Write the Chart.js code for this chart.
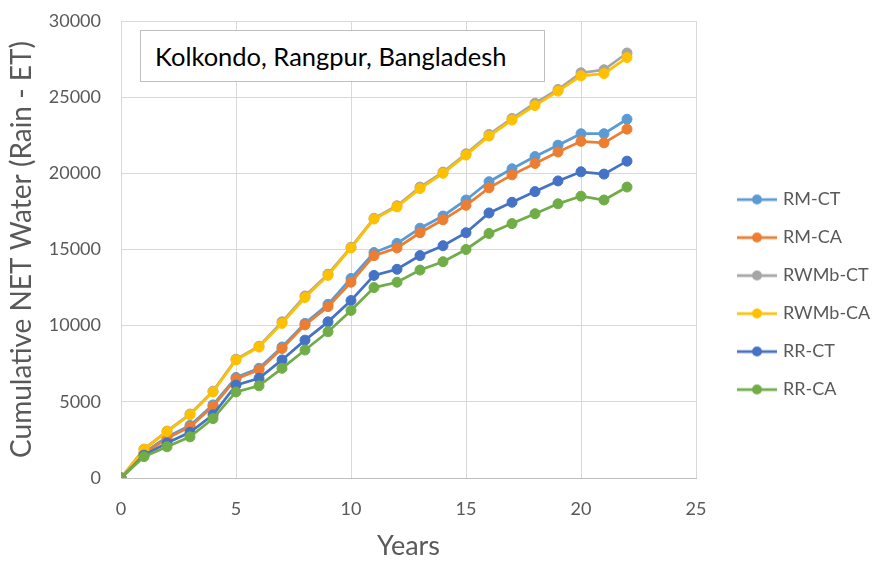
<!DOCTYPE html>
<html>
<head>
<meta charset="utf-8">
<script src="https://cdn.jsdelivr.net/npm/chart.js@4"></script>
<style>
  body{margin:0;background:#fff}
  #wrap{position:relative;width:874px;height:562px}
  #title{position:absolute;left:140px;top:30px;width:405px;height:52px;box-sizing:border-box;
    border:1px solid #bfbfbf;background:#fff;font-family:Lato,sans-serif;font-size:25.5px;
    line-height:50px;padding-left:14px;color:#000;white-space:nowrap}
</style>
</head>
<body>
<div id="wrap">
  <canvas id="myChart" width="874" height="562"></canvas>
  <div id="title">Kolkondo, Rangpur, Bangladesh</div>
</div>
<script>
// years 0..22
var years=[0,1,2,3,4,5,6,7,8,9,10,11,12,13,14,15,16,17,18,19,20,21,22]
var rmCT=[0,1650,2700,3450,4800,6600,7200,8600,10150,11400,13100,14800,15400,16400,17200,18250,19450,20300,21100,21850,22600,22600,23550]
var rmCA=[0,1600,2600,3350,4700,6500,7100,8500,10050,11250,12850,14600,15100,16100,16950,17900,19050,19900,20650,21400,22100,22000,22900]
var rwmbCT=[0,1900,3080,4200,5700,7800,8650,10250,11950,13380,15150,17050,17870,19100,20080,21280,22550,23600,24600,25500,26600,26800,27900]
var rwmbCA=[0,1880,3050,4150,5650,7750,8600,10150,11850,13300,15100,17000,17800,19000,20000,21200,22450,23500,24450,25400,26400,26550,27600]
var rrCT=[0,1500,2300,3000,4150,6100,6550,7750,9050,10250,11650,13300,13700,14600,15250,16100,17400,18100,18800,19500,20100,19950,20800]
var rrCA=[0,1400,2050,2700,3900,5650,6050,7200,8400,9600,11000,12500,12850,13650,14200,15000,16050,16700,17350,18000,18500,18250,19100]

var names=["RM-CT","RM-CA","RWMb-CT","RWMb-CA","RR-CT","RR-CA"]
var series=[rmCT,rmCA,rwmbCT,rwmbCA,rrCT,rrCA]
var colors=["#5B9BD5","#ED7D31","#A5A5A5","#FFC000","#4472C4","#70AD47"]

var txt="#595959"
var grid="#d9d9d9"

// little line+dot picture for the legend
function icon(color){
    var c=document.createElement("canvas")
    c.width=40;c.height=12
    var g=c.getContext("2d")
    g.strokeStyle=color;g.lineWidth=2.75
    g.beginPath();g.moveTo(0,6);g.lineTo(40,6);g.stroke()
    g.fillStyle=color
    g.beginPath();g.arc(20,6,5,0,Math.PI*2);g.fill()
    return c
}

var datasets=[]
for(var i=0;i<series.length;i++){
    datasets.push({
        label:names[i],
        data:years.map(function(x,j){return {x:x,y:series[i][j]}}),
        borderColor:colors[i],
        backgroundColor:colors[i],
        pointBackgroundColor:colors[i],
        pointBorderColor:colors[i],
        borderWidth:2.75,
        pointRadius:5,
        pointBorderWidth:1,
        tension:0,
        order:series.length-i
    })
}

var legendFix={
    id:"legendFix",
    afterInit:function(chart){
        var lg=chart.legend
        var fit=lg.fit
        lg.fit=function(){
            fit.call(this)
            this.width=178
        }
    },
    afterLayout:function(chart){
        var lg=chart.legend
        var w=lg.width
        lg.left=740-20
        lg.right=lg.left+w
        lg.top+=3
        lg.bottom+=3
    }
}

var chart=new Chart(document.getElementById("myChart").getContext("2d"),{
    type:"line",
    data:{datasets:datasets},
    plugins:[legendFix],
    options:{
        responsive:false,
        animation:false,
        devicePixelRatio:1,
        layout:{padding:{left:4,top:21,right:0,bottom:0}},
        plugins:{
            tooltip:{enabled:false},
            legend:{
                position:"right",
                align:"center",
                labels:{
                    usePointStyle:true,
                    pointStyleWidth:34,
                    padding:20,
                    color:txt,
                    font:{family:"Lato",size:18},
                    sort:function(a,b){return a.datasetIndex-b.datasetIndex},
                    generateLabels:function(c){
                        var items=Chart.defaults.plugins.legend.labels.generateLabels(c)
                        items.forEach(function(it){it.pointStyle=icon(colors[it.datasetIndex])})
                        return items
                    }
                }
            }
        },
        scales:{
            x:{
                type:"linear",
                min:0,max:25,
                ticks:{stepSize:5,color:txt,padding:20,font:{family:"Lato",size:18}},
                grid:{color:grid,drawTicks:false},
                border:{color:"#bfbfbf"},
                title:{display:true,text:"Years",color:txt,font:{family:"Lato",size:27},padding:{top:0,bottom:0}},
                afterFit:function(s){s.height=84}
            },
            y:{
                min:0,max:30000,
                ticks:{stepSize:5000,color:txt,padding:8,font:{family:"Lato",size:18},
                    callback:function(v){return String(v)}},
                grid:{color:grid,drawTicks:true,tickLength:12,tickColor:"rgba(0,0,0,0)"},
                border:{color:grid},
                title:{display:true,text:"Cumulative NET Water (Rain - ET)",color:txt,font:{family:"Lato",size:28},padding:{top:1,bottom:0}},
                afterFit:function(s){s.width=117}
            }
        }
    }
})
</script>
</body>
</html>
